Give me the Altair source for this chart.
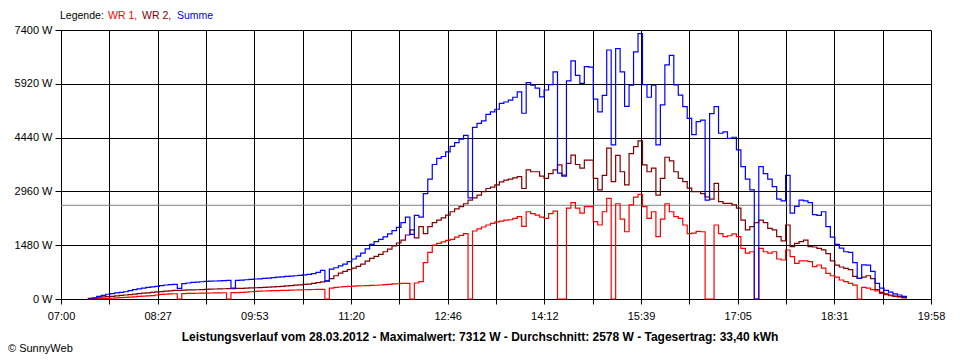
import altair as alt
import pandas as pd

# --- data (4-minute samples starting 07:24) ---
start_min = 444  # 07:24 in minutes after midnight
step_min = 4

summe = [
    20, 30, 70, 100, 130, 150, 170, 185, 200, 230,
    260, 280, 300, 320, 335, 350, 370, 385, 395, 405,
    290, 425, 440, 455, 465, 475, 485, 490, 495, 500,
    505, 510, 300, 515, 520, 530, 540, 550, 555, 565,
    575, 590, 600, 610, 620, 630, 640, 650, 665, 680,
    700, 730, 790, 500, 820, 860, 910, 960, 1030, 1100,
    1180, 1260, 1380, 1500, 1580, 1640, 1710, 1790, 1880, 1970,
    2100, 2250, 1780, 2300, 2250, 2900, 3300, 3700, 3870, 3920,
    4050, 4200, 4300, 4400, 4500, 2780, 4720, 4830, 4900, 5080,
    5150, 5220, 5380, 5420, 5470, 5550, 5700, 5110, 5950, 5880,
    5800, 5560, 5750, 5900, 6250, 3460, 3380, 6000, 6550, 6150,
    5930, 6390, 6380, 5500, 5150, 5600, 6850, 4240, 6890, 6250,
    5300, 5880, 6800, 7300, 5900, 5550, 5880, 4240, 5340, 6440,
    6700, 5890, 5610, 5290, 4970, 4520, 4880, 4920, 2720, 5100,
    5290, 4560, 4600, 4420, 4450, 4100, 3640, 3300, 3000, 0,
    3640, 3450, 3300, 3090, 2750, 2700, 3400, 2360, 2550, 2720,
    2700, 2650, 2320, 2300, 2400, 1990, 1700, 1500, 1400, 1300,
    1280, 1000, 570, 940, 930, 760, 430, 300, 240, 190,
    140, 110, 70, 20,
]

wr2 = [
    10, 20, 50, 60, 63, 70, 85, 100, 110, 120,
    135, 150, 160, 170, 185, 195, 205, 215, 225, 235,
    240, 245, 250, 250, 255, 260, 265, 270, 275, 280,
    282, 285, 285, 290, 293, 300, 305, 310, 315, 320,
    325, 335, 340, 350, 360, 370, 380, 390, 400, 410,
    430, 450, 470, 490, 560, 640, 710, 760, 810, 850,
    900, 960, 1040, 1120, 1170, 1230, 1300, 1370, 1460, 1540,
    1620, 1760, 1900, 1680, 1990, 1800, 1990, 2100, 2170, 2230,
    2310, 2400, 2480, 2540, 2620, 2720, 2780, 2860, 2950, 3040,
    3080, 3140, 3220, 3270, 3300, 3330, 3365, 3040, 3550, 3500,
    3500, 3380, 3320, 3450, 3550, 3690, 3410, 3730, 3960, 3700,
    3600, 3820, 3820, 3320, 3000, 3400, 4150, 3230, 3950, 3500,
    3140, 4000, 4190, 4350, 3690, 3500, 3600, 2860, 3320, 3900,
    3800, 3500, 3320, 3230, 3050, 2950, 2950, 2900, 2810, 2750,
    3180, 2680, 2630, 2630, 2590, 2500, 2170, 1900, 1990, 2100,
    2170, 2100, 1945, 1900, 1714, 1600, 2036, 1440, 1530, 1580,
    1620, 1440, 1430, 1390, 1350, 1250, 1050, 930, 880, 844,
    810, 620, 570, 600, 640, 560, 260, 180, 140, 110,
    80, 64, 40, 20,
]

wr1 = [
    0, 5, 10, 15, 18, 20, 30, 40, 45, 50,
    60, 70, 80, 85, 95, 110, 125, 135, 140, 145,
    0, 150, 155, 156, 158, 160, 163, 165, 168, 170,
    172, 0, 174, 176, 183, 190, 200, 210, 215, 220,
    225, 229, 232, 235, 240, 245, 248, 250, 255, 258,
    262, 264, 266, 0, 300, 320, 330, 340, 350, 355,
    360, 365, 370, 375, 378, 385, 395, 405, 415, 420,
    430, 431, 0, 440, 480, 1000, 1280, 1480, 1530, 1570,
    1610, 1640, 1700, 1750, 1800, 0, 1870, 1930, 1980, 2036,
    2080, 2120, 2140, 2170, 2180, 2220, 2264, 2000, 2400, 2350,
    2310, 2250, 2220, 2350, 2420, 0, 0, 2500, 2650, 2500,
    2360, 2540, 2540, 2127, 2036, 2400, 2770, 0, 2620, 2200,
    1850, 2590, 2800, 2880, 2540, 2220, 2400, 1714, 2200, 2620,
    2400, 2264, 2220, 2036, 1800, 1810, 1860, 1850, 0, 0,
    2036, 1800, 1714, 1740, 1790, 1714, 1395, 1260, 1300, 0,
    1395, 1300, 1260, 1300, 1100, 1073, 1348, 1164, 982, 1050,
    1050, 1026, 889, 935, 850, 707, 640, 600, 523, 480,
    431, 380, 0, 320, 300, 260, 220, 156, 120, 90,
    70, 55, 40, 15,
]

series_names = ["WR 1", "WR 2", "Summe"]
series_colors = ["#ff0000", "#800000", "#0000ff"]

tick_labels = ["07:00", "08:27", "09:53", "11:20", "12:46",
               "14:12", "15:39", "17:05", "18:31", "19:58"]
y_ticks = [0, 1480, 2960, 4440, 5920, 7400]
x_start, x_end = 420, 1198   # 07:00 .. 19:58 in minutes
average_w = 2578

title_text = ("Leistungsverlauf vom 28.03.2012 - Maximalwert: 7312 W - "
              "Durchschnitt: 2578 W - Tagesertrag: 33,40 kWh")
footer_text = "\u00a9 SunnyWeb"

# --- tables ---
times = [start_min + step_min * i for i in range(len(summe))]
frames = []
for name, vals in zip(series_names, [wr1, wr2, summe]):
    frames.append(pd.DataFrame({"t": times, "w": vals, "serie": name}))
df = pd.concat(frames, ignore_index=True)

n_minor = 2 * (len(tick_labels) - 1)
minor_step = (x_end - x_start) / n_minor
x_tick_values = [x_start + minor_step * k for k in range(n_minor + 1)]
label_array = "[" + ",".join("'" + s + "'" for s in tick_labels) + "]"
x_label_expr = (
    f"round((datum.value - {x_start}) / {minor_step}) % 2 == 0 ? "
    f"{label_array}[round((datum.value - {x_start}) / {minor_step}) / 2] : ''"
)

FONT = "Liberation Sans"

x_enc = alt.X(
    "t:Q",
    scale=alt.Scale(domain=[x_start, x_end], nice=False, zero=False),
    axis=alt.Axis(
        values=x_tick_values, labelExpr=x_label_expr, title=None,
        grid=True, gridColor="black", gridOpacity=1, gridWidth=1,
        domainColor="black", tickColor="black", tickSize=5,
        labelFont=FONT, labelFontSize=11, labelColor="black",
        labelPadding=6, labelFlush=False, labelOverlap=False,
    ),
)
y_enc = alt.Y(
    "w:Q",
    scale=alt.Scale(domain=[0, y_ticks[-1]], nice=False),
    axis=alt.Axis(
        values=y_ticks, labelExpr="datum.value + ' W'", title=None,
        grid=True, gridColor="black", gridOpacity=1, gridWidth=1,
        domainColor="black", tickColor="black", tickSize=6,
        labelFont=FONT, labelFontSize=11, labelColor="black",
        labelPadding=3, labelFlush=False, labelOverlap=False,
    ),
)

base = alt.Chart(df)

avg_rule = alt.Chart(pd.DataFrame({"w": [average_w]})).mark_rule(
    color="#808080", strokeWidth=1
).encode(y=alt.Y("w:Q"))

layers = [avg_rule]
for name, col in zip(series_names, series_colors):
    layers.append(
        base.transform_filter(alt.datum.serie == name)
        .mark_line(color=col, strokeWidth=1.2, interpolate="step-after")
        .encode(x=x_enc, y=y_enc)
    )

txt = pd.DataFrame({"a": [0]})


def label(text, x, y, color="black", bold=False, size=11, align="left"):
    return alt.Chart(txt).mark_text(
        text=text, font=FONT, fontSize=size, color=color,
        fontWeight="bold" if bold else "normal",
        align=align, baseline="middle",
    ).encode(x=alt.value(x), y=alt.value(y))


legend_items = [("Legende:", "black", -1)] + [
    (n + ("," if i < 2 else ""), c, pos)
    for i, (n, c, pos) in enumerate(zip(series_names, series_colors, [47, 81, 116]))
]
for text, col, pos in legend_items:
    layers.append(label(text, pos, -14, color=col, size=10.5))

layers.append(label(title_text, 419, 307, bold=True, size=12, align="center"))
layers.append(label(footer_text, -53, 319, size=11))

chart = alt.layer(*layers).properties(
    width=870,
    height=269,
    padding={"left": 53, "top": 22, "right": 15, "bottom": 58},
    autosize=alt.AutoSizeParams(type="none"),
).configure_view(stroke="black", strokeWidth=1).configure(background="white")

chart.save("out.html", embed_options={"renderer": "svg", "actions": False})
